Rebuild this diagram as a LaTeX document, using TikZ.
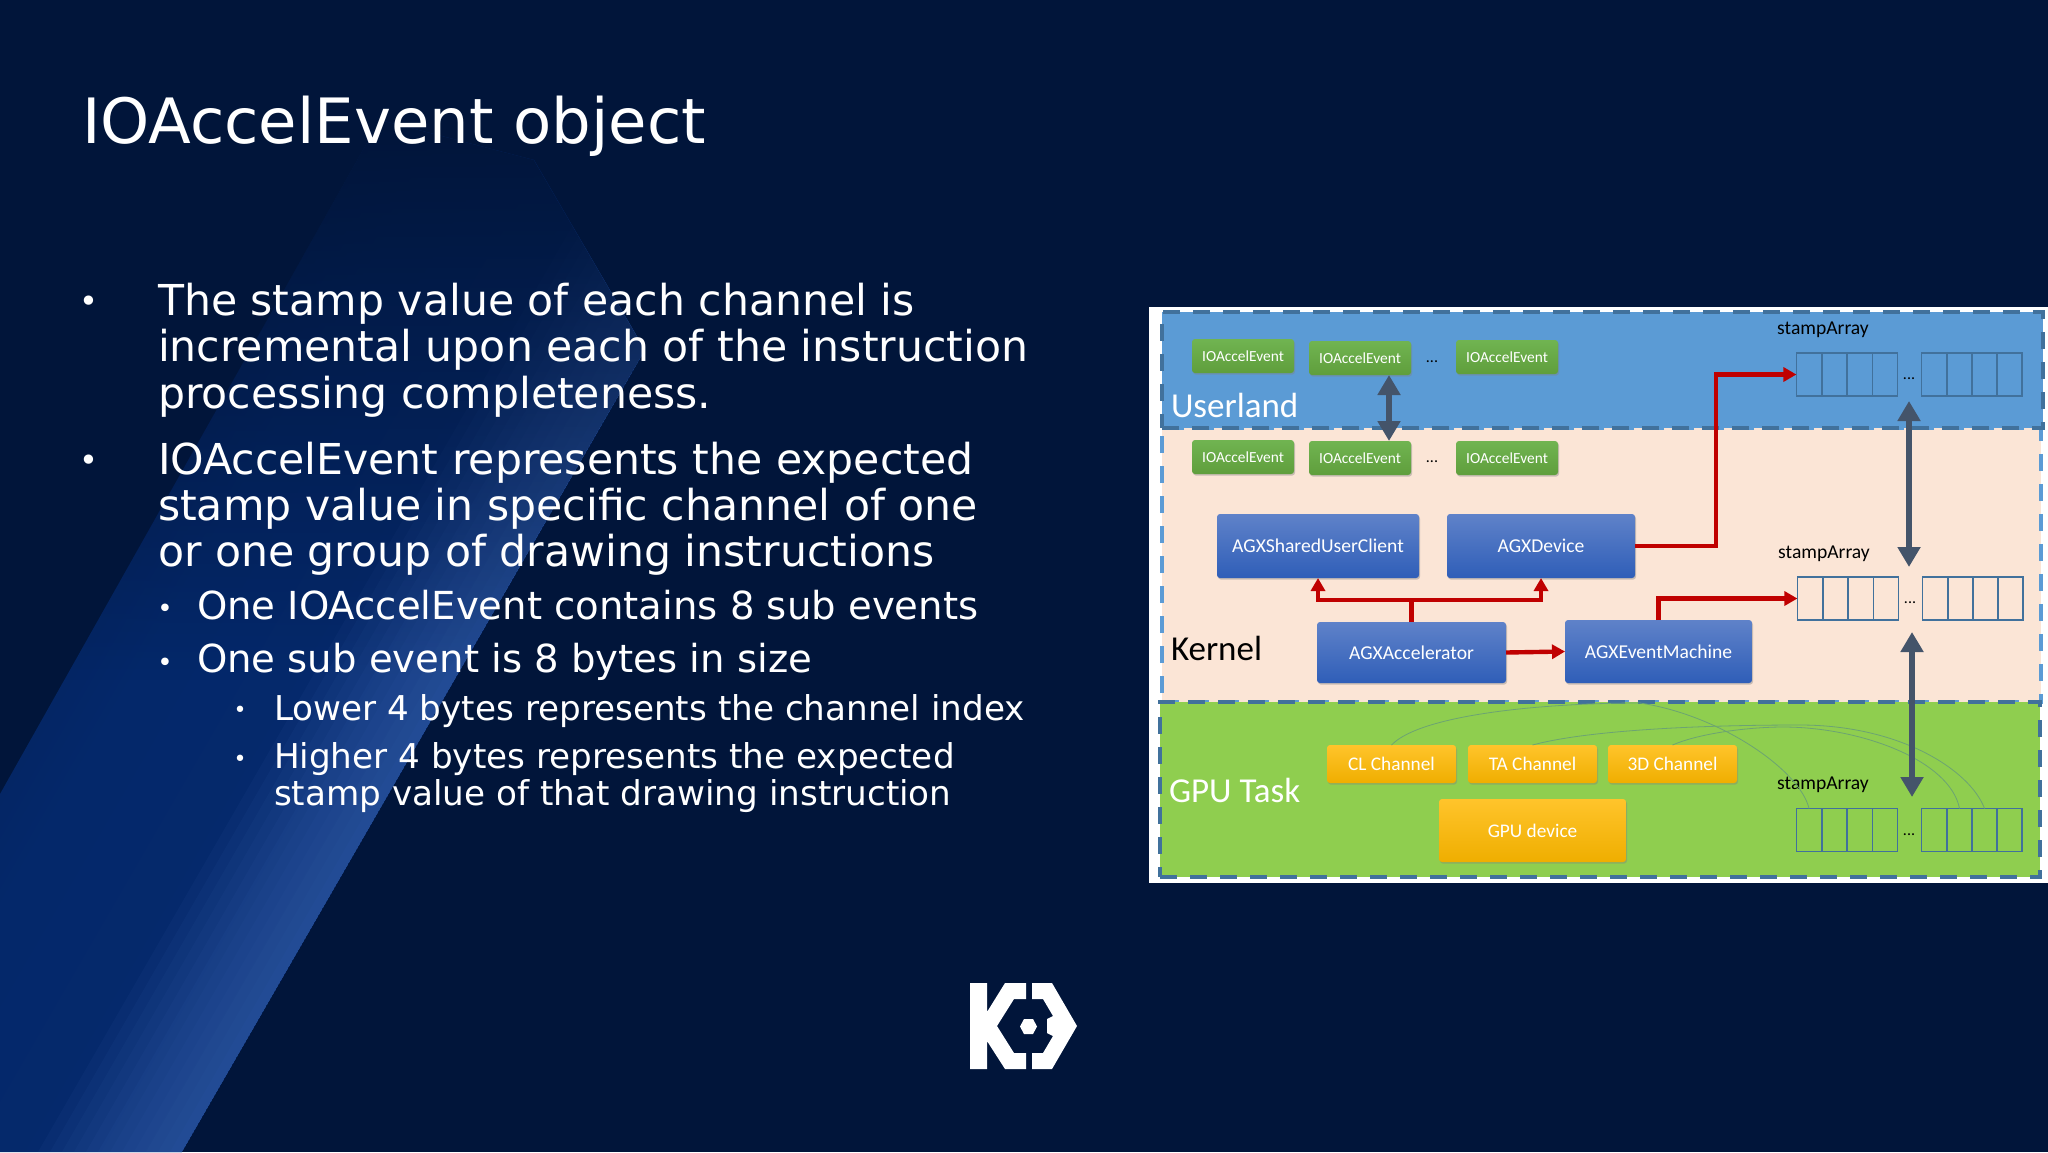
\documentclass[tikz,border=0pt]{standalone}
\usepackage{fontspec}
\setmainfont{DejaVu Sans}
\newfontfamily\diagfont{Carlito}
\usetikzlibrary{arrows.meta,shadows,fadings}
\definecolor{slidebg}{HTML}{01153A}
\definecolor{bandA}{HTML}{031E55}
\definecolor{bandB}{HTML}{04286A}
\definecolor{bandC}{HTML}{05296C}
\definecolor{bandD}{HTML}{0A2E72}
\definecolor{bandglint}{HTML}{3560AC}
\definecolor{userfill}{HTML}{5B9BD5}
\definecolor{kernelfill}{HTML}{FBE5D6}
\definecolor{gpufill}{HTML}{8FCE4F}
\definecolor{darkdash}{HTML}{41719C}
\definecolor{lightdash}{HTML}{5B9BD5}
\definecolor{syncarrow}{HTML}{44546A}
\definecolor{redarrow}{HTML}{C00000}
\definecolor{eventtop}{HTML}{70B451}
\definecolor{eventbottom}{HTML}{5F9E3C}
\definecolor{kerneltop}{HTML}{5F82C9}
\definecolor{kernelbottom}{HTML}{2F5EB8}
\definecolor{channeltop}{HTML}{FFC42B}
\definecolor{channelbottom}{HTML}{EFAE00}
\pgfdeclareverticalshading{bandglow}{100bp}{color(0bp)=(bandA); color(25bp)=(bandA); color(41bp)=(bandB); color(53bp)=(bandC); color(65bp)=(bandD); color(100bp)=(bandD)}
\tikzfading[name=bandfade, top color=transparent!0, bottom color=transparent!100]

\begin{document}
\begin{tikzpicture}[x=0.5pt, y=-0.5pt,
every node/.style={inner sep=0pt, outer sep=0pt},
slidetext/.style={text=white, anchor=base west, align=left},
bigtext/.style={slidetext, font=\fontsize{21.3}{23.25}\selectfont},
midtext/.style={slidetext, font=\fontsize{19.3}{21}\selectfont},
smalltext/.style={slidetext, font=\fontsize{17.1}{18.5}\selectfont},
dotmark/.style={text=white, anchor=center},
region/.style={line width=1.75pt, dash pattern=on 8.5pt off 6.5pt, anchor=north west},
regionname/.style={anchor=base west, font=\diagfont\fontsize{17.5}{20}\selectfont},
box/.style={rounded corners=1.5pt, text=white, font=\diagfont\fontsize{9.8}{11}\selectfont, drop shadow={shadow xshift=0.5pt, shadow yshift=-0.8pt, opacity=0.4}},
eventbox/.style={box, top color=eventtop, bottom color=eventbottom, minimum width=51pt, minimum height=17pt, font=\diagfont\fontsize{7.7}{9}\selectfont},
kernelbox/.style={box, top color=kerneltop, bottom color=kernelbottom},
channelbox/.style={box, top color=channeltop, bottom color=channelbottom, minimum width=64.5pt, minimum height=19pt, font=\diagfont\fontsize{9.65}{11}\selectfont},
cell/.style={draw=darkdash, line width=0.7pt, minimum width=12.6pt, minimum height=21.5pt},
stamplabel/.style={font=\diagfont\fontsize{9.8}{11}\selectfont, text=black},
dots/.style={font=\diagfont\fontsize{8}{10}\selectfont, text=black},
redline/.style={draw=redarrow, line width=2.2pt, -{Triangle[length=6.5pt,width=7pt]}},
syncline/.style={draw=syncarrow, line width=3pt, {Triangle[length=10pt,width=11pt]}-{Triangle[length=10pt,width=11pt]}},
wire/.style={draw=darkdash!45!gpufill, line width=0.4pt}]

\useasboundingbox (0,0) rectangle (2048,1152);
\fill[slidebg] (0,0) rectangle (2048,1152);

\begin{scope}
\clip (534,160) -- (645,350) -- (182,1152) -- (0,1152) -- (0,794) -- (380,120) -- cycle;
\shade[shading=bandglow, shading angle=-120] (534,160) -- (645,350) -- (182,1152) -- (0,1152) -- (0,794) -- (380,120) -- cycle;
\foreach \w in {12,24,36,48,60,72,84,96,108,120,132,144}
  \fill[bandglint, opacity=0.09] (847,0) -- (182,1152) -- (182-\w,1152) -- (847-\w,0) -- cycle;
\end{scope}
\fill[slidebg, path fading=bandfade] (380,120) -- (534,160) -- (645,350) -- (454,680) -- (64,680) -- cycle;

\node[slidetext, font=\fontsize{31.25}{36}\selectfont] (title) at (82,143) {IOAccelEvent object};

\node[dotmark, font=\fontsize{16}{18}\selectfont] (bulletA) at (89,304) {•};
\node[bigtext] (paraA) at (158,408) {The stamp value of each channel is\\incremental upon each of the instruction\\processing completeness.};
\node[dotmark, font=\fontsize{16}{18}\selectfont] (bulletB) at (89,463) {•};
\node[bigtext, font=\fontsize{21.3}{23}\selectfont] (paraB) at (158,566) {IOAccelEvent represents the expected\\stamp value in specific channel of one\\or one group of drawing instructions};
\node[dotmark, font=\fontsize{13}{14}\selectfont] (bulletC) at (165,611) {•};
\node[midtext] (paraC) at (197,619) {One IOAccelEvent contains 8 sub events};
\node[dotmark, font=\fontsize{13}{14}\selectfont] (bulletD) at (165,665) {•};
\node[midtext] (paraD) at (197,672) {One sub event is 8 bytes in size};
\node[dotmark, font=\fontsize{11}{12}\selectfont] (bulletE) at (240,712) {•};
\node[smalltext] (paraE) at (274,720) {Lower 4 bytes represents the channel index};
\node[dotmark, font=\fontsize{11}{12}\selectfont] (bulletF) at (240,761) {•};
\node[smalltext] (paraF) at (274,805) {Higher 4 bytes represents the expected\\stamp value of that drawing instruction};

\fill[white] (1149,307) rectangle (2048,883);

\node[region, fill=kernelfill, draw=lightdash, minimum width=439.5pt, minimum height=137pt] (kernel) at (1162,428) {};
\node[region, fill=gpufill, draw=darkdash, minimum width=440pt, minimum height=87.5pt] (gpu) at (1160,702) {};
\node[region, fill=userfill, draw=darkdash, minimum width=440.5pt, minimum height=58pt] (user) at (1162,312) {};

\node[regionname, text=white] (userland) at (1171,417) {Userland};
\node[regionname, text=black] (kernelname) at (1171,660) {Kernel};
\node[regionname, text=white] (gputask) at (1169,802) {GPU Task};

\node[eventbox] (ueA) at (1243,356) {IOAccelEvent};
\node[eventbox] (ueB) at (1360,358) {IOAccelEvent};
\node[dots] (ueDots) at (1432,362) {...};
\node[eventbox] (ueC) at (1507,357) {IOAccelEvent};
\node[eventbox] (keA) at (1243,457) {IOAccelEvent};
\node[eventbox] (keB) at (1360,458) {IOAccelEvent};
\node[dots] (keDots) at (1432,462) {...};
\node[eventbox] (keC) at (1507,458) {IOAccelEvent};

\node[kernelbox, minimum width=101pt, minimum height=32pt] (client) at (1318,546) {AGXSharedUserClient};
\node[kernelbox, minimum width=94pt, minimum height=32pt] (device) at (1541,546) {AGXDevice};
\node[kernelbox, minimum width=94.5pt, minimum height=30.5pt] (accel) at (1411.5,652.5) {AGXAccelerator};
\node[kernelbox, minimum width=93.5pt, minimum height=31.5pt] (machine) at (1658.5,651.5) {AGXEventMachine};

\node[channelbox] (cl) at (1391.5,764) {CL Channel};
\node[channelbox] (ta) at (1532.5,764) {TA Channel};
\node[channelbox] (threed) at (1672.5,764) {3D Channel};
\node[channelbox, minimum width=93.5pt, minimum height=31.5pt] (gpudev) at (1532.5,830.5) {GPU device};

\node[stamplabel] (stampU) at (1823,330) {stampArray};
\node[stamplabel] (stampK) at (1824,554) {stampArray};
\node[stamplabel] (stampG) at (1823,785) {stampArray};

\node[cell] (ua) at (1809,374.5) {};
\node[cell] (ub) at (1834.5,374.5) {};
\node[cell] (uc) at (1860,374.5) {};
\node[cell] (ud) at (1885,374.5) {};
\node[dots] (uDots) at (1909,379) {...};
\node[cell] (ue) at (1934,374.5) {};
\node[cell] (uf) at (1959.5,374.5) {};
\node[cell] (ug) at (1984.5,374.5) {};
\node[cell] (uh) at (2009.5,374.5) {};

\node[cell] (ka) at (1810,598.5) {};
\node[cell] (kb) at (1835.5,598.5) {};
\node[cell] (kc) at (1861,598.5) {};
\node[cell] (kd) at (1886,598.5) {};
\node[dots] (kDots) at (1910,603) {...};
\node[cell] (ke) at (1935,598.5) {};
\node[cell] (kf) at (1960.5,598.5) {};
\node[cell] (kg) at (1985.5,598.5) {};
\node[cell] (kh) at (2010.5,598.5) {};

\node[cell] (ga) at (1809,830) {};
\node[cell] (gb) at (1834.5,830) {};
\node[cell] (gc) at (1860,830) {};
\node[cell] (gd) at (1885,830) {};
\node[dots] (gDots) at (1909,835) {...};
\node[cell] (ge) at (1934,830) {};
\node[cell] (gf) at (1959.5,830) {};
\node[cell] (gg) at (1984.5,830) {};
\node[cell] (gh) at (2009.5,830) {};

\draw[wire] (cl.north) .. controls (1420,715) and (1540,703) .. (1640,703) .. controls (1720,715) and (1800,770) .. (ga.north);
\draw[wire] (ta.north) .. controls (1580,732) and (1680,725) .. (1800,725) .. controls (1900,725) and (1970,770) .. (gg.north);
\draw[wire] (threed.north) .. controls (1700,733) and (1750,727) .. (1783,727) .. controls (1860,727) and (1950,760) .. (gf.north);

\draw[syncline] ([xshift=14.5pt]ueB.south) -- ([xshift=14.5pt]keB.north);
\draw[syncline, shorten <=11pt, shorten >=18pt] (uDots.center) -- (uDots.center |- kDots.center);
\draw[syncline, shorten <=14.5pt, shorten >=19pt] ([xshift=1pt]kDots.center) -- ([xshift=1pt]kDots.center |- gDots.center);

\draw[redline] (accel.north) -- ++(0,-22) -| (client.south);
\draw[redline] (accel.north) -- ++(0,-22) -| (device.south);
\draw[redline] (accel.east) -- (machine.west);
\draw[redline] (device.east) -- ++(81,0) |- (ua.west);
\draw[redline] (machine.north) |- (ka.west);

\fill[white] (970,983) -- (987,983) -- (987,1012) -- (1005,983) -- (1026,983) -- (1026,999) -- (1014,999) -- (997,1026) -- (1014,1053) -- (1026,1053) -- (1026,1069) -- (1005,1069) -- (987,1041) -- (987,1069) -- (970,1069) -- cycle;
\fill[white] (1032,983) -- (1052,983) -- (1077,1026) -- (1052,1069) -- (1032,1069) -- (1032,1053) -- (1043,1053) -- (1053,1036) -- (1047,1033) -- (1047,1019) -- (1053,1016) -- (1043,999) -- (1032,999) -- cycle;
\fill[white] (1020,1026.5) -- (1024,1019) -- (1033,1019) -- (1037,1026.5) -- (1033,1034) -- (1024,1034) -- cycle;
\end{tikzpicture}
\end{document}
